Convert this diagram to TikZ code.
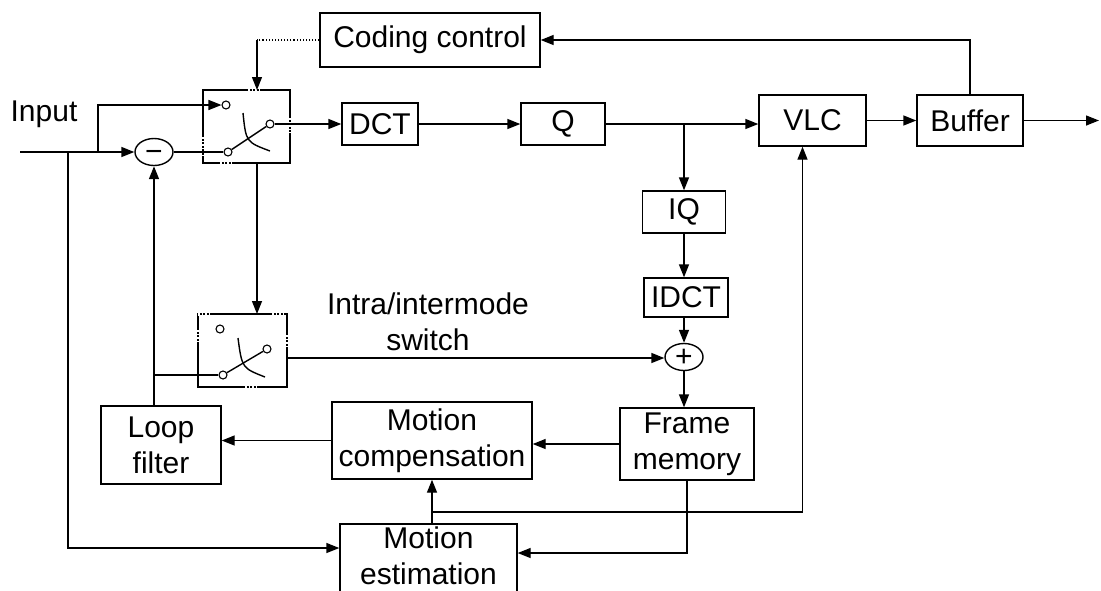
\documentclass[tikz,border=0pt]{standalone}
\usepackage{fontspec}
\setmainfont{Liberation Sans}
\usetikzlibrary{arrows.meta, positioning, shapes.geometric, calc}

\tikzset{
  blk/.style={draw, align=center, inner sep=0pt},
  sumnode/.style={draw, ellipse, minimum width=38pt, minimum height=27pt, inner sep=0pt, text height=19pt, text depth=0pt},
  arr/.style={-{Triangle[length=13pt,width=10pt]}},
  contact/.style={draw, circle, minimum size=8pt, inner sep=0pt, line width=1.1pt},
  gap/.style={white, line width=3pt, dash pattern=on 1.5pt off 2pt},
}

\begin{document}
\begin{tikzpicture}[x=1pt, y=-1pt, line width=1.4pt, font=\fontsize{30}{36}\selectfont]
\useasboundingbox (0,0) rectangle (1101,590);
\node[blk, minimum width=220pt, minimum height=54pt] (cc) at (430,40) {Coding control};
\node[blk, minimum width=87pt, minimum height=73pt] (sw1) at (246.5,126.5) {};
\node[blk, minimum width=89pt, minimum height=73pt] (sw2) at (242.5,350.5) {};
\node[blk, minimum width=76pt, minimum height=42pt] (dct) at (380,124) {DCT};
\node[blk, minimum width=84pt, minimum height=42pt] (q) at (563,124) {Q};
\node[blk, minimum width=107pt, minimum height=51pt] (vlc) at (812.5,120.5) {VLC};
\node[blk, minimum width=106pt, minimum height=51pt] (buf) at (970,120.5) {Buffer};
\node[blk, minimum width=83pt, minimum height=42pt] (iq) at (684,212) {IQ};
\node[blk, minimum width=84pt, minimum height=39pt] (idct) at (686,297.5) {IDCT};
\node[sumnode] (plus) at (684,357) {+};
\node[sumnode] (minus) at (154,152) {−};
\node[blk, minimum width=134pt, minimum height=72pt] (fm) at (687,444) {Frame\\memory};
\node[blk, minimum width=200pt, minimum height=77pt] (mc) at (432,440.5) {Motion\\compensation};
\node[blk, minimum width=120pt, minimum height=78pt] (lf) at (161,445) {Loop\\filter};
\node[blk, minimum width=177pt, minimum height=72pt] (me) at (428.5,560) {Motion\\estimation\rule[-8pt]{0pt}{0pt}};
\node (inlabel) at (44,114) {Input};
\node[align=center] (swlabel) at (428,322) {Intra/intermode\\switch};

\node[contact] (s1a) at (226,105) {};
\node[contact] (s1o) at (270,124) {};
\node[contact] (s1b) at (228,152) {};
\node[contact] (s2a) at (220,329) {};
\node[contact] (s2o) at (267,349) {};
\node[contact] (s2b) at (223,375) {};
\draw (s1b) -- (s1o);
\draw (s2b) -- (s2o);
\draw (243,113) .. controls (246,142) .. (270,151);
\draw (238,338) .. controls (242,368) .. (265,377);
\draw[gap] (248,90) -- (262,90);
\draw[gap] (203,137) -- (203,157);
\draw[gap] (290,118) -- (290,133);
\draw[gap] (220,163) -- (233,163);
\draw[gap] (198,314) -- (212,314);
\draw[gap] (272,314) -- (285,314);
\draw[gap] (198,330) -- (198,342);
\draw[gap] (287,335) -- (287,347);
\draw[gap] (245,387) -- (257,387);

\coordinate (in) at (20,152);
\coordinate (j1) at (68,152);
\coordinate (j2) at (98,152);
\coordinate (s1n) at (257,90);
\coordinate (s1s) at (257,163);
\coordinate (s2n) at (257,314);
\coordinate (s2e) at (287,358);
\coordinate (jmv) at (432,512);
\coordinate (out) at (1099,120.5);

\draw[arr] (in) -- (minus);
\draw[arr] (j2) |- (s1a);
\draw[arr] (j1) |- ([yshift=12pt]me.west);
\draw (minus) -- (s1b);
\draw[arr] (s1o) -- (dct);
\draw[arr] (dct) -- (q);
\draw[arr] (q.east) -- (q.east -| vlc.west);
\draw[arr] (vlc) -- (buf);
\draw[arr] (buf) -- (out);
\draw[arr] (buf.north) |- (cc.east);
\draw[dotted, line width=1.1pt] (cc.west) -- (cc.west -| s1n);
\draw[arr] (cc.west -| s1n) -- (s1n);
\draw[arr] (iq.north |- q.east) -- (iq.north);
\draw[arr] (iq) -- (iq |- idct.north);
\draw[arr] (idct.south -| plus) -- (plus);
\draw[arr] (plus.south) -- (plus.south |- fm.north);
\draw[arr] (s1s) -- (s2n);
\draw[arr] (s2e) -- (s2e -| plus.west);
\draw[arr] (fm.west) -- (fm.west -| mc.east);
\draw[arr] (mc.west) -- (mc.west -| lf.east);
\draw[arr] (lf.north -| minus.south) -- (minus.south);
\draw (s2b -| minus.south) -- (s2b);
\draw[arr] (mc.south |- me.north) -- (mc.south);
\draw[arr] (jmv) -| ([xshift=-10pt]vlc.south);
\draw[arr] (fm.south) |- ([yshift=7pt]me.east);
\end{tikzpicture}
\end{document}
